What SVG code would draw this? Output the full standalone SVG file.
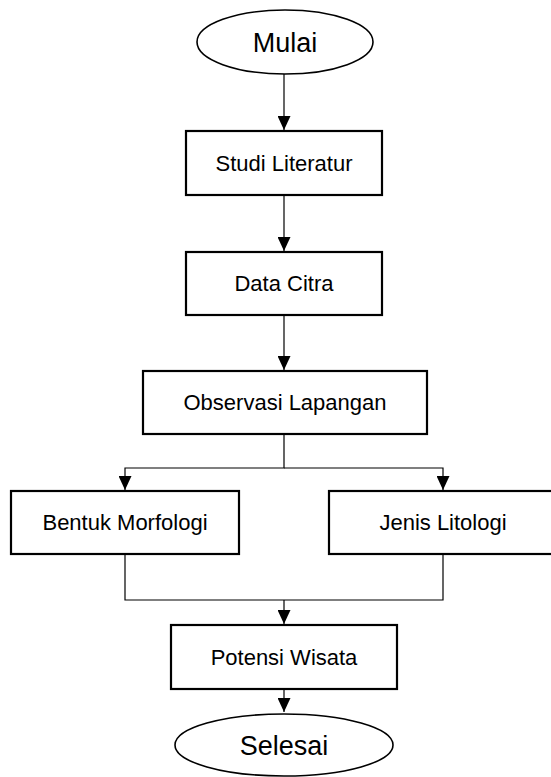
<svg xmlns="http://www.w3.org/2000/svg" width="551" height="777" viewBox="0 0 551 777">
  <style>
    .box { fill: #ffffff; stroke: #000000; stroke-width: 2.2; }
    .oval { fill: #ffffff; stroke: #000000; stroke-width: 1.6; }
    .conn { fill: none; stroke: #000000; stroke-width: 1.2; }
    .lbl { font-family: "Liberation Sans", Arial, sans-serif; font-size: 22px; fill: #000000; text-anchor: middle; }
    .big { font-size: 27px; }
  </style>
  <defs>
    <marker id="arrow" markerUnits="userSpaceOnUse" markerWidth="14" markerHeight="13" refX="14" refY="6.5" orient="auto">
      <path d="M0,0 L14,6.5 L0,13 z" fill="#000000"/>
    </marker>
  </defs>
  <rect width="551" height="777" fill="#ffffff"/>

  <g id="connectors">
    <path class="conn" d="M284,74 V130" marker-end="url(#arrow)"/>
    <path class="conn" d="M284,195 V251" marker-end="url(#arrow)"/>
    <path class="conn" d="M284,315 V370" marker-end="url(#arrow)"/>
    <path class="conn" d="M284,434 V468 H125 V490" marker-end="url(#arrow)"/>
    <path class="conn" d="M284,468 H443 V490" marker-end="url(#arrow)"/>
    <path class="conn" d="M125,554 V600 H443 V554"/>
    <path class="conn" d="M284,600 V624" marker-end="url(#arrow)"/>
    <path class="conn" d="M284,689 V712" marker-end="url(#arrow)"/>
  </g>

  <g id="mulai">
    <ellipse class="oval" cx="285" cy="42" rx="88" ry="32"/>
    <text class="lbl big" x="285" y="52">Mulai</text>
  </g>
  <g id="studi-literatur">
    <rect class="box" x="186" y="131" width="196" height="64"/>
    <text class="lbl" x="284" y="171">Studi Literatur</text>
  </g>
  <g id="data-citra">
    <rect class="box" x="186" y="252" width="196" height="63"/>
    <text class="lbl" x="284" y="291">Data Citra</text>
  </g>
  <g id="observasi-lapangan">
    <rect class="box" x="143" y="371" width="284" height="63"/>
    <text class="lbl" x="285" y="410">Observasi Lapangan</text>
  </g>
  <g id="bentuk-morfologi">
    <rect class="box" x="11" y="491" width="228" height="63"/>
    <text class="lbl" x="125" y="530">Bentuk Morfologi</text>
  </g>
  <g id="jenis-litologi">
    <rect class="box" x="329" y="491" width="228" height="63"/>
    <text class="lbl" x="443" y="530">Jenis Litologi</text>
  </g>
  <g id="potensi-wisata">
    <rect class="box" x="171" y="625" width="226" height="64"/>
    <text class="lbl" x="284" y="665">Potensi Wisata</text>
  </g>
  <g id="selesai">
    <ellipse class="oval" cx="284" cy="745" rx="109" ry="31"/>
    <text class="lbl big" x="284" y="755">Selesai</text>
  </g>
</svg>
